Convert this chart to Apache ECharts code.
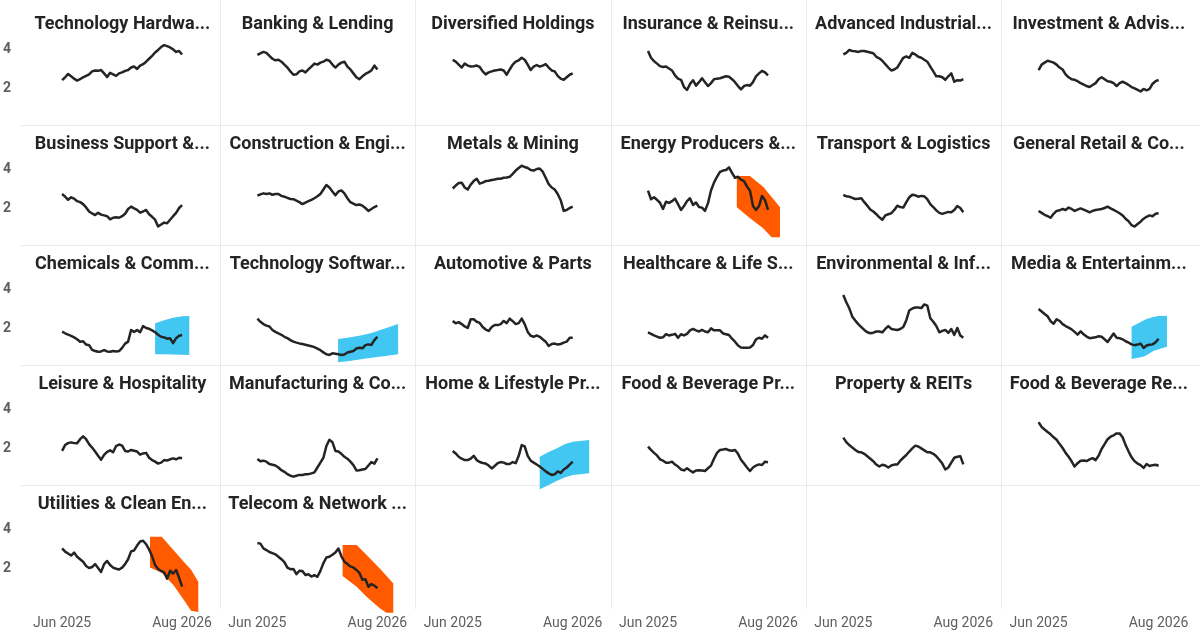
<!DOCTYPE html>
<html><head><meta charset="utf-8">
<script src="https://cdn.jsdelivr.net/npm/echarts@6/dist/echarts.min.js"></script>
<style>html,body{margin:0;padding:0;background:#fff}#c{width:1200px;height:639px}</style>
</head><body><div id="c"></div>
<script>
const titles = ['Technology Hardwa...','Banking & Lending','Diversified Holdings','Insurance & Reinsu...','Advanced Industrial...','Investment & Advis...',
'Business Support &...','Construction & Engi...','Metals & Mining','Energy Producers &...','Transport & Logistics','General Retail & Co...',
'Chemicals & Comm...','Technology Softwar...','Automotive & Parts','Healthcare & Life S...','Environmental & Inf...','Media & Entertainm...',
'Leisure & Hospitality','Manufacturing & Co...','Home & Lifestyle Pr...','Food & Beverage Pr...','Property & REITs','Food & Beverage Re...',
'Utilities & Clean En...','Telecom & Network ...'];
const xTickLabels = ['Jun 2025','Aug 2026'];
const xTickPos = [0,40];
const yTicks = [2,4];

const techHardware = [2.4,2.55,2.72,2.6,2.48,2.38,2.45,2.55,2.62,2.7,2.85,2.9,2.88,2.92,2.75,2.56,2.78,2.7,2.62,2.75,2.8,2.88,2.92,3.05,3.1,2.98,3.15,3.22,3.35,3.5,3.65,3.82,3.95,4.1,4.2,4.15,4.08,3.98,3.85,3.9,3.72];
const banking = [3.7,3.78,3.85,3.8,3.65,3.5,3.42,3.45,3.35,3.2,3.05,2.85,2.68,2.7,2.85,2.9,2.8,2.95,3.1,3.25,3.2,3.3,3.35,3.45,3.4,3.2,3.05,3.2,3.3,3.35,3.1,2.95,2.75,2.55,2.45,2.6,2.72,2.8,2.9,3.15,2.95];
const diversified = [3.44,3.35,3.2,3.05,3.25,3.15,3.1,3.12,3.15,3.08,2.85,2.7,2.8,2.85,2.9,2.92,2.95,2.9,2.68,2.95,3.2,3.35,3.42,3.55,3.45,3.2,2.92,3.1,3.18,3.1,3.15,3.22,3.05,2.9,2.85,2.62,2.48,2.42,2.55,2.68,2.75];
const insurance = [3.9,3.55,3.38,3.25,3.12,3.08,3.1,3.0,2.9,2.65,2.48,2.42,2.05,1.9,2.2,2.4,2.12,2.3,2.5,2.3,2.1,2.25,2.45,2.48,2.5,2.55,2.6,2.58,2.45,2.3,2.1,1.93,2.1,2.15,2.12,2.3,2.6,2.75,2.88,2.8,2.65];
const advIndustrial = [3.72,3.8,3.95,3.9,3.88,3.85,3.9,3.9,3.86,3.82,3.78,3.6,3.52,3.4,3.22,3.05,2.9,2.95,3.05,3.3,3.55,3.62,3.55,3.8,3.72,3.6,3.55,3.45,3.35,3.1,2.85,2.6,2.6,2.55,2.42,2.6,2.75,2.32,2.4,2.38,2.45];
const investment = [2.92,3.2,3.3,3.4,3.35,3.3,3.2,3.05,2.95,2.7,2.55,2.45,2.42,2.35,2.25,2.18,2.1,2.05,2.15,2.25,2.45,2.55,2.45,2.35,2.32,2.25,2.1,2.25,2.32,2.25,2.15,2.05,1.98,1.9,1.82,1.95,1.88,1.95,2.22,2.35,2.41];
const businessSupport = [2.72,2.58,2.42,2.55,2.48,2.35,2.3,2.2,2.03,1.82,1.72,1.64,1.76,1.66,1.62,1.58,1.42,1.5,1.52,1.5,1.58,1.7,1.95,2.07,1.98,1.9,1.76,1.82,1.9,1.68,1.55,1.4,1.05,1.15,1.25,1.22,1.4,1.58,1.75,2.0,2.15];
const construction = [2.63,2.7,2.75,2.72,2.75,2.68,2.72,2.72,2.62,2.58,2.52,2.46,2.45,2.38,2.3,2.2,2.28,2.35,2.42,2.5,2.6,2.72,2.95,3.18,3.05,2.85,2.65,2.85,2.9,2.75,2.5,2.3,2.22,2.15,2.18,2.12,2.0,1.85,1.95,2.05,2.12];
const metals = [3.0,3.15,3.28,3.3,3.05,2.95,3.2,3.38,3.5,3.25,3.3,3.38,3.4,3.44,3.46,3.5,3.5,3.55,3.56,3.6,3.75,3.92,4.05,4.17,4.1,4.05,3.95,3.92,4.0,4.02,3.86,3.55,3.22,3.05,2.95,2.72,2.4,1.85,1.9,2.0,2.07];
const energy = [2.89,2.45,2.55,2.42,2.27,1.95,2.32,2.26,2.35,2.48,2.2,1.9,2.1,2.35,2.5,2.15,2.28,2.05,2.02,1.85,2.25,2.9,3.3,3.6,3.85,3.92,3.95,4.08,3.8,3.55,3.6,3.45,3.38,3.1,2.88,2.1,1.9,2.1,2.62,2.4,1.9];
const transport = [2.67,2.6,2.58,2.52,2.46,2.48,2.5,2.3,2.12,1.92,1.82,1.68,1.52,1.4,1.62,1.68,1.73,1.9,2.12,2.05,2.02,2.3,2.55,2.68,2.65,2.58,2.62,2.6,2.45,2.2,2.05,1.88,1.75,1.7,1.75,1.8,1.78,1.9,2.1,2.0,1.78];
const generalRetail = [1.85,1.75,1.65,1.58,1.5,1.7,1.85,1.88,1.95,1.9,2.02,1.95,1.85,1.92,1.98,1.92,1.85,1.78,1.85,1.9,1.92,1.95,2.0,2.07,1.98,1.9,1.82,1.73,1.62,1.45,1.32,1.12,1.05,1.18,1.3,1.45,1.55,1.62,1.58,1.7,1.73];
const chemicals = [1.81,1.73,1.66,1.6,1.52,1.42,1.3,1.32,1.15,1.12,0.88,0.82,0.78,0.8,0.87,0.8,0.78,0.82,0.8,0.82,0.98,1.2,1.3,1.9,1.8,1.9,1.78,2.1,2.0,1.96,1.88,1.78,1.65,1.55,1.52,1.45,1.47,1.22,1.48,1.6,1.64];
const techSoftware = [2.48,2.32,2.2,2.12,2.08,1.9,1.8,1.72,1.65,1.55,1.48,1.38,1.3,1.25,1.21,1.18,1.14,1.1,1.06,1.02,0.94,0.86,0.75,0.65,0.62,0.7,0.68,0.65,0.62,0.64,0.74,0.78,0.82,0.95,0.99,0.96,1.12,1.16,1.13,1.38,1.55];
const automotive = [2.36,2.24,2.3,2.2,2.08,2.0,2.45,2.45,2.32,2.26,2.05,1.92,1.85,2.05,2.15,2.15,2.2,2.36,2.25,2.48,2.35,2.2,2.25,2.48,2.2,1.8,1.6,1.55,1.62,1.55,1.42,1.3,1.08,1.18,1.2,1.15,1.18,1.25,1.3,1.5,1.5];
const healthcare = [1.78,1.7,1.62,1.56,1.5,1.52,1.68,1.62,1.65,1.7,1.5,1.68,1.62,1.7,1.88,1.95,1.88,1.82,1.9,1.82,1.78,1.98,1.88,1.88,1.88,1.72,1.68,1.64,1.45,1.3,1.1,1.0,0.99,0.99,1.0,1.13,1.42,1.5,1.45,1.62,1.5];
const environmental = [3.69,3.32,3.01,2.58,2.38,2.2,2.05,1.9,1.78,1.73,1.76,1.82,1.82,1.78,1.95,2.1,1.95,1.92,1.9,1.95,2.05,2.4,2.9,3.0,3.05,3.05,3.02,3.21,3.15,2.5,2.32,2.1,1.78,1.85,1.9,1.75,1.95,1.65,2.0,1.62,1.5];
const media = [2.97,2.85,2.72,2.6,2.35,2.22,2.45,2.36,2.2,2.1,2.02,1.93,1.8,1.66,1.83,1.68,1.56,1.48,1.5,1.52,1.58,1.55,1.42,1.28,1.5,1.72,1.5,1.48,1.42,1.32,1.25,1.16,1.12,1.15,1.2,0.98,1.1,1.14,1.16,1.27,1.45];
const leisure = [1.85,2.15,2.25,2.29,2.25,2.24,2.45,2.6,2.45,2.2,2.02,1.82,1.6,1.4,1.65,1.8,1.88,1.78,2.1,2.18,2.12,1.85,1.82,1.9,1.86,1.82,1.66,1.72,1.75,1.5,1.38,1.3,1.2,1.25,1.38,1.36,1.42,1.47,1.42,1.5,1.47];
const manufacturing = [1.44,1.32,1.35,1.3,1.18,1.14,1.1,1.0,0.86,0.78,0.66,0.58,0.53,0.58,0.62,0.62,0.65,0.66,0.7,0.75,1.0,1.25,1.5,2.1,2.42,2.3,1.85,1.82,1.7,1.55,1.45,1.3,1.12,0.85,0.86,0.9,0.92,1.1,1.28,1.2,1.47];
const homeLifestyle = [1.85,1.72,1.55,1.45,1.38,1.38,1.45,1.6,1.38,1.28,1.23,1.2,1.1,0.95,1.08,1.22,1.28,1.25,1.18,1.18,1.28,1.22,1.6,2.15,2.08,1.6,1.35,1.25,1.15,1.05,0.93,0.8,0.7,0.62,0.65,0.8,0.72,0.9,1.0,1.15,1.3];
const foodBevProducers = [2.07,1.9,1.75,1.62,1.42,1.35,1.25,1.25,1.3,1.15,1.05,0.9,0.85,0.96,0.85,0.75,0.85,0.86,0.85,0.82,0.96,1.1,1.45,1.75,1.9,1.92,1.95,1.88,1.86,1.9,1.7,1.4,1.2,1.0,0.82,1.0,1.1,1.16,1.13,1.3,1.27];
const property = [2.53,2.3,2.15,2.02,1.9,1.8,1.78,1.7,1.58,1.45,1.32,1.15,1.05,1.14,1.1,1.0,1.1,1.15,1.15,1.35,1.5,1.64,1.82,1.98,2.12,2.08,1.98,1.88,1.78,1.78,1.7,1.58,1.4,1.2,0.9,1.0,1.25,1.5,1.55,1.58,1.16];
const foodBevRetail = [3.32,3.08,2.95,2.82,2.7,2.55,2.42,2.2,2.0,1.75,1.55,1.32,1.05,1.22,1.35,1.36,1.33,1.42,1.48,1.38,1.6,1.95,2.2,2.45,2.58,2.65,2.75,2.75,2.55,2.15,1.82,1.52,1.32,1.2,1.12,0.98,1.18,1.08,1.12,1.14,1.09];
const utilities = [3.01,2.84,2.74,2.64,2.79,2.58,2.45,2.32,2.1,2.0,2.05,2.2,2.0,1.8,2.2,2.36,2.15,2.02,1.96,1.92,2.02,2.2,2.45,2.85,2.9,3.15,3.36,3.4,3.22,2.95,2.6,2.15,1.95,1.85,1.78,1.45,1.86,1.72,1.9,1.5,1.04];
const telecom = [3.28,3.25,3.01,2.92,2.82,2.76,2.7,2.58,2.45,2.3,2.02,1.94,1.95,1.68,1.86,1.85,1.64,1.68,1.56,1.63,1.55,1.85,2.25,2.54,2.58,2.68,2.8,3.0,2.6,2.32,2.2,2.08,2.02,1.9,1.75,1.4,1.42,1.04,1.18,1.1,0.96];

// forecast bands: x positions (period index), upper and lower bounds
const energyBandX = [29.6,34,36,38.4,41.2,44];
const energyBandUpper = [3.64,3.64,3.39,3.09,2.56,2.04];
const energyBandLower = [2.04,1.47,1.24,0.96,0.5,0.5];
const chemicalsBandX = [31,34,37,40,42.4];
const chemicalsBandUpper = [2.24,2.4,2.52,2.6,2.62];
const chemicalsBandLower = [0.65,0.65,0.64,0.63,0.62];
const techSoftwareBandX = [26.9,30,34,38,42,46.9];
const techSoftwareBandUpper = [1.44,1.5,1.6,1.75,1.95,2.2];
const techSoftwareBandLower = [0.25,0.3,0.38,0.47,0.55,0.65];
const mediaBandX = [31,34.8,36,38.2,39.8,42.8];
const mediaBandUpper = [2.07,2.37,2.46,2.56,2.62,2.63];
const mediaBandLower = [0.41,0.53,0.6,0.82,0.9,1.04];
const homeBandX = [29,32,34.6,37.5,40.1,45.5];
const homeBandUpper = [1.55,1.8,1.98,2.2,2.32,2.41];
const homeBandLower = [-0.12,0.1,0.31,0.5,0.62,0.7];
const utilitiesBandX = [29.3,33.2,37.1,41,43,45.4];
const utilitiesBandUpper = [3.6,3.6,2.92,2.24,1.91,1.3];
const utilitiesBandLower = [2.03,1.76,1.13,0.27,-0.19,-0.25];
const telecomBandX = [28.4,33.1,36.4,40.8,43,45.3];
const telecomBandUpper = [3.18,3.18,2.67,1.98,1.6,1.21];
const telecomBandLower = [1.59,1.04,0.53,-0.07,-0.29,-0.3];

const panelValues = [techHardware,banking,diversified,insurance,advIndustrial,investment,
  businessSupport,construction,metals,energy,transport,generalRetail,
  chemicals,techSoftware,automotive,healthcare,environmental,media,
  leisure,manufacturing,homeLifestyle,foodBevProducers,property,foodBevRetail,
  utilities,telecom];

const ORANGE = '#FF5A00', BLUE = '#42C6F2';
const bands = {
  9: {x: energyBandX, upper: energyBandUpper, lower: energyBandLower, color: ORANGE},
  12: {x: chemicalsBandX, upper: chemicalsBandUpper, lower: chemicalsBandLower, color: BLUE},
  13: {x: techSoftwareBandX, upper: techSoftwareBandUpper, lower: techSoftwareBandLower, color: BLUE},
  17: {x: mediaBandX, upper: mediaBandUpper, lower: mediaBandLower, color: BLUE},
  20: {x: homeBandX, upper: homeBandUpper, lower: homeBandLower, color: BLUE},
  24: {x: utilitiesBandX, upper: utilitiesBandUpper, lower: utilitiesBandLower, color: ORANGE},
  25: {x: telecomBandX, upper: telecomBandUpper, lower: telecomBandLower, color: ORANGE}
};

const FONT = 'Roboto, "Noto Sans", sans-serif';
const COLS = 6, ROWS = 5;
const colW = 195.3, rowH = 120, x0 = 24.7, y0 = 5;

const grids = [], xAxes = [], yAxes = [], series = [], graphics = [];

for (let r = 1; r < ROWS; r++) {
  const y = Math.round(y0 + r * rowH) + 0.5;
  graphics.push({type:'line', silent:true, shape:{x1:20, y1:y, x2:1200, y2:y}, style:{stroke:'#EBEBEB', lineWidth:1}});
}
for (let c = 1; c < COLS; c++) {
  const x = Math.round(x0 + c * colW) + 0.5;
  graphics.push({type:'line', silent:true, shape:{x1:x, y1:0, x2:x, y2:609}, style:{stroke:'#EBEBEB', lineWidth:1}});
}

function bandRenderer(color) {
  return function (params, api) {
    if (params.dataIndexInside !== 0) return null;
    const n = params.dataInsideLength;
    const top = [], bottom = [];
    for (let k = 0; k < n; k++) {
      const x = api.value(0, k);
      top.push(api.coord([x, api.value(1, k)]));
      bottom.unshift(api.coord([x, api.value(2, k)]));
    }
    return {type: 'polygon', shape: {points: top.concat(bottom)}, style: {fill: color, stroke: null}, silent: true};
  };
}

for (let r = 0; r < ROWS; r++) {
  for (let c = 0; c < COLS; c++) {
    const p = r * COLS + c;
    const hasPanel = p < titles.length;
    if (!hasPanel && r < ROWS - 1) continue;
    const gi = grids.length;
    const colStart = x0 + c * colW, rowTop = y0 + r * rowH;
    grids.push({left: colStart + 37.4, top: rowTop + 5, width: 144, height: 117, containLabel: false});
    xAxes.push({
      gridIndex: gi, type: 'value', min: 0, max: 48,
      axisLine: {show: false}, axisTick: {show: false}, splitLine: {show: false},
      axisLabel: {
        show: r === ROWS - 1, customValues: xTickPos, margin: 9,
        color: '#605E5C', fontSize: 14, fontFamily: FONT,
        formatter: v => { const k = xTickPos.indexOf(v); return k >= 0 ? xTickLabels[k] : ''; }
      }
    });
    yAxes.push({
      gridIndex: gi, type: 'value', min: 0, max: 6,
      axisLine: {show: false}, axisTick: {show: false}, splitLine: {show: false},
      axisLabel: {
        show: c === 0, customValues: yTicks, margin: 51,
        color: '#605E5C', fontSize: 14, fontWeight: 'bold', fontFamily: FONT,
        formatter: v => yTicks.indexOf(v) >= 0 ? String(v) : ''
      }
    });
    if (!hasPanel) continue;
    graphics.push({
      type: 'text', silent: true,
      x: colStart + colW / 2, y: rowTop + 19,
      style: {text: titles[p], fill: '#252423', fontSize: 18, fontWeight: 'bold', fontFamily: FONT,
        align: 'center', verticalAlign: 'middle', textAlign: 'center', textVerticalAlign: 'middle'}
    });
    const b = bands[p];
    if (b) {
      series.push({
        type: 'custom', xAxisIndex: gi, yAxisIndex: gi,
        data: b.x.map((x, k) => [x, b.upper[k], b.lower[k]]),
        encode: {x: 0, y: [1, 2]},
        renderItem: bandRenderer(b.color),
        clip: false, silent: true, z: 1, animation: false
      });
    }
    series.push({
      type: 'line', xAxisIndex: gi, yAxisIndex: gi,
      data: panelValues[p].map((v, k) => [k, v]),
      showSymbol: false, symbol: 'none',
      lineStyle: {color: '#252423', width: 2.5, join: 'round'},
      z: 3, silent: true, animation: false
    });
  }
}

const chart = echarts.init(document.getElementById('c'), null, {renderer: 'canvas'});
chart.setOption({
  animation: false,
  backgroundColor: '#ffffff',
  grid: grids, xAxis: xAxes, yAxis: yAxes, series: series, graphic: graphics
});
</script>
</body></html>
